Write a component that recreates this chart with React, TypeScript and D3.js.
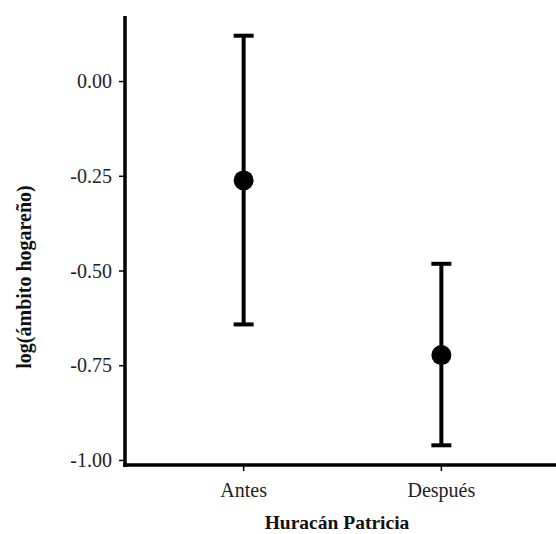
import React from "react";
import * as d3 from "d3";

const categories = ["Antes", "Después"];
const means = [-0.261, -0.722];
const upper = [0.121, -0.481];
const lower = [-0.641, -0.96];
const yTicks = [0, -0.25, -0.5, -0.75, -1.0];
const yTitle = "log(ámbito hogareño)";
const xTitle = "Huracán Patricia";

export default function App() {
  const W = 556, H = 534;
  const axisX = 125, axisY = 465;
  const y = d3.scaleLinear().domain([-1.012, 0.173]).range([axisY, 16]);
  const x = d3.scalePoint<string>().domain(categories).range([axisX, 560]).padding(0.6);
  const font = "'Liberation Serif', serif";
  const fmt = (t: number) => d3.format(".2f")(t).replace("−", "-");
  return (
    <svg width={W} height={H} style={{ position: "absolute", left: 0, top: 0, background: "#fff" }}>
      <rect width={W} height={H} fill="#fff" />
      <line x1={axisX} x2={axisX} y1={16} y2={axisY + 2} stroke="#000" strokeWidth={3.5} />
      <line x1={axisX - 1.75} x2={W} y1={axisY} y2={axisY} stroke="#000" strokeWidth={3.5} />
      {yTicks.map((t) => (
        <g key={t}>
          <line x1={axisX - 6} x2={axisX} y1={y(t)} y2={y(t)} stroke="#000" strokeWidth={1.5} />
          <text x={112} y={y(t)} dy="0.33em" textAnchor="end" fontFamily={font} fontSize={20} fill="#222">
            {fmt(t)}
          </text>
        </g>
      ))}
      {categories.map((c) => (
        <g key={c}>
          <line x1={x(c)} x2={x(c)} y1={axisY} y2={axisY + 6} stroke="#000" strokeWidth={1.5} />
          <text x={x(c)} y={497} textAnchor="middle" fontFamily={font} fontSize={20} fill="#222">
            {c}
          </text>
        </g>
      ))}
      {categories.map((c, i) => {
        const cx = x(c)!;
        return (
          <g key={c}>
            <line x1={cx} x2={cx} y1={y(upper[i])} y2={y(lower[i])} stroke="#000" strokeWidth={4} />
            <line x1={cx - 10} x2={cx + 10} y1={y(upper[i])} y2={y(upper[i])} stroke="#000" strokeWidth={4} />
            <line x1={cx - 10} x2={cx + 10} y1={y(lower[i])} y2={y(lower[i])} stroke="#000" strokeWidth={4} />
            <circle cx={cx} cy={y(means[i])} r={10} fill="#000" />
          </g>
        );
      })}
      <text x={337} y={529} textAnchor="middle" fontFamily={font} fontSize={19.5} fontWeight="bold" fill="#111">
        {xTitle}
      </text>
      <text transform={`translate(31, 277) rotate(-90)`} textAnchor="middle" fontFamily={font} fontSize={20} fontWeight="bold" fill="#111">
        {yTitle}
      </text>
    </svg>
  );
}
